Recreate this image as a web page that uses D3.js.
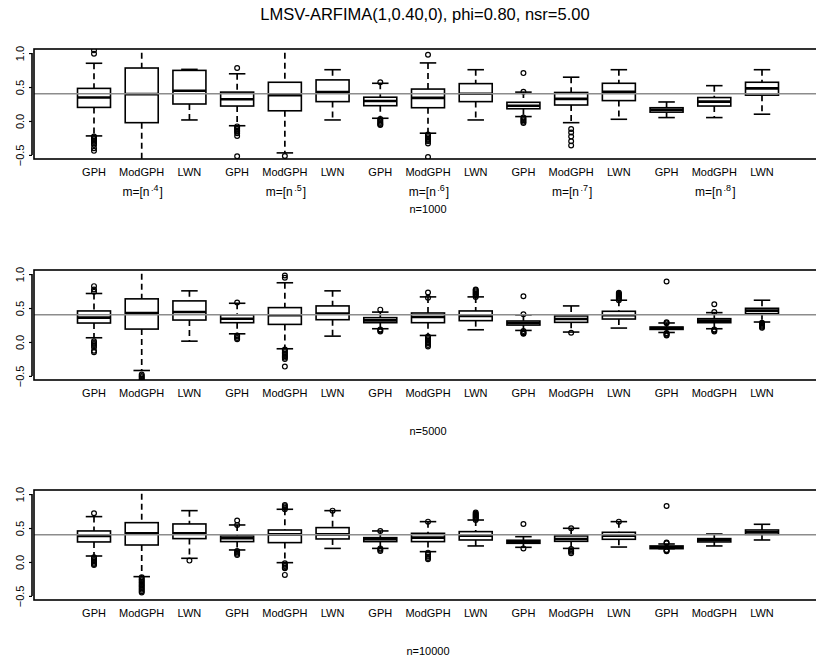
<!DOCTYPE html>
<html>
<head>
<meta charset="utf-8">
<script src="https://cdn.jsdelivr.net/npm/d3@7"></script>
<style>
  body { margin: 0; background: #fff; }
  text { font-family: "Liberation Sans", Arial, sans-serif; fill: #000; }
</style>
</head>
<body>
<script>
var width = 816;
var height = 661;

// categories (15 boxes per panel)
var methods = ["GPH", "ModGPH", "LWN"];
var bandExp = [".4", ".5", ".6", ".7", ".8"];
var sampleSizes = ["n=1000", "n=5000", "n=10000"];
var yTicks = [-0.5, 0.0, 0.5, 1.0];
var trueD = 0.4;

// five-number stats per box: [lower whisker, q1, median, q3, upper whisker]
var stats1000 = [
  [-0.22, 0.20, 0.345, 0.48, 0.85], [-0.8, -0.025, 0.395, 0.78, 1.3], [0.015, 0.25, 0.445, 0.745, 0.76],
  [-0.07, 0.22, 0.32, 0.425, 0.695], [-0.47, 0.15, 0.38, 0.57, 1.3], [0.015, 0.285, 0.425, 0.605, 0.755],
  [0.04, 0.225, 0.295, 0.35, 0.555], [-0.18, 0.195, 0.34, 0.47, 0.855], [0.015, 0.285, 0.40, 0.55, 0.755],
  [0.065, 0.18, 0.225, 0.275, 0.425], [-0.025, 0.235, 0.325, 0.42, 0.645], [0.025, 0.30, 0.43, 0.555, 0.755],
  [0.05, 0.13, 0.165, 0.195, 0.28], [0.05, 0.22, 0.285, 0.345, 0.52], [0.10, 0.38, 0.48, 0.57, 0.755]
];
var out1000 = [
  [1.04, 0.99, -0.23, -0.25, -0.27, -0.29, -0.31, -0.33, -0.355, -0.40, -0.44],
  [],
  [],
  [0.78, -0.08, -0.10, -0.12, -0.14, -0.16, -0.18, -0.22, -0.52],
  [-0.515],
  [],
  [0.57, -0.05, 0.03, 0.01, -0.01, -0.03, -0.06],
  [0.975, -0.20, -0.22, -0.24, -0.26, -0.28, -0.30, -0.33, -0.53],
  [],
  [0.43, 0.705, 0.05, 0.03, 0.01, -0.01, -0.03],
  [-0.12, -0.17, -0.23, -0.30, -0.36],
  [],
  [],
  [],
  []
];

var stats5000 = [
  [0.062, 0.279, 0.358, 0.457, 0.714], [-0.42, 0.19, 0.427, 0.635, 1.3], [0.012, 0.323, 0.442, 0.605, 0.753],
  [0.12, 0.284, 0.343, 0.40, 0.57], [-0.10, 0.259, 0.393, 0.506, 0.872], [0.086, 0.328, 0.417, 0.531, 0.753],
  [0.195, 0.284, 0.318, 0.358, 0.44], [0.096, 0.284, 0.368, 0.427, 0.664], [0.18, 0.314, 0.383, 0.457, 0.664],
  [0.17, 0.249, 0.279, 0.309, 0.40], [0.146, 0.289, 0.338, 0.383, 0.531], [0.205, 0.338, 0.393, 0.452, 0.615],
  [0.14, 0.185, 0.205, 0.22, 0.28], [0.195, 0.284, 0.314, 0.343, 0.432], [0.294, 0.417, 0.462, 0.496, 0.615]
];
var out5000 = [
  [0.822, 0.773, 0.74, 0.01, -0.01, -0.03, -0.05, -0.077, -0.13, -0.15],
  [-0.48, -0.50, -0.52, -0.54, -0.56],
  [],
  [0.58, 0.096, 0.08, 0.06, 0.04],
  [0.98, 0.945, -0.11, -0.13, -0.15, -0.17, -0.19, -0.21, -0.23, -0.25, -0.363],
  [],
  [0.476, 0.185, 0.17, 0.156],
  [0.728, 0.65, 0.08, 0.06, 0.04, 0.02, 0.0, -0.02, -0.045, -0.067],
  [0.773, 0.76, 0.745, 0.73, 0.715, 0.70, 0.685, 0.664],
  [0.407, 0.674, 0.16, 0.145, 0.13, 0.12],
  [0.136],
  [0.724, 0.71, 0.695, 0.68, 0.665, 0.65, 0.635, 0.615],
  [0.29, 0.275, 0.891, 0.131, 0.12, 0.108, 0.096],
  [0.442, 0.556, 0.185, 0.17, 0.156],
  [0.284, 0.27, 0.255, 0.24, 0.225, 0.21]
];

var stats10000 = [
  [0.088, 0.295, 0.383, 0.457, 0.668], [-0.216, 0.25, 0.422, 0.579, 1.3], [0.054, 0.344, 0.422, 0.56, 0.756],
  [0.177, 0.30, 0.349, 0.383, 0.545], [-0.01, 0.285, 0.407, 0.471, 0.776], [0.20, 0.339, 0.407, 0.506, 0.756],
  [0.20, 0.30, 0.334, 0.358, 0.457], [0.152, 0.30, 0.358, 0.422, 0.594], [0.236, 0.324, 0.388, 0.447, 0.618],
  [0.216, 0.275, 0.297, 0.32, 0.373], [0.20, 0.304, 0.339, 0.383, 0.496], [0.22, 0.334, 0.388, 0.437, 0.594],
  [0.196, 0.196, 0.216, 0.236, 0.265], [0.236, 0.295, 0.324, 0.344, 0.412], [0.324, 0.407, 0.437, 0.471, 0.555]
];
var out10000 = [
  [0.717, 0.07, 0.05, 0.03, 0.01, -0.01, -0.03, -0.044],
  [-0.226, -0.25, -0.27, -0.29, -0.31, -0.33, -0.35, -0.37, -0.39, -0.41, -0.43, -0.45],
  [0.02],
  [0.609, 0.545, 0.162, 0.14, 0.12, 0.103],
  [0.84, 0.82, 0.80, 0.776, -0.02, -0.04, -0.06, -0.08, -0.093, -0.19],
  [0.756],
  [0.457, 0.2, 0.18, 0.162],
  [0.594, 0.137, 0.11, 0.08, 0.06, 0.04],
  [0.727, 0.71, 0.695, 0.68, 0.665, 0.65, 0.635, 0.618],
  [0.56, 0.2],
  [0.496, 0.19, 0.17, 0.15, 0.128],
  [0.594],
  [0.285, 0.275, 0.825, 0.177, 0.167, 0.157],
  [],
  []
];

var panelStats = [stats1000, stats5000, stats10000];
var panelOut = [out1000, out5000, out10000];
var panelTop = [49, 270, 490];
var panelH = 110;

var svg = d3.select("body")
    .append("svg")
    .attr("width", width)
    .attr("height", height);

// title
svg.append("text")
    .attr("x", 425)
    .attr("y", 20)
    .attr("text-anchor", "middle")
    .style("font-size", "16.5px")
    .text("LMSV-ARFIMA(1,0.40,0), phi=0.80, nsr=5.00");

// x positions for the 15 boxes
var xScale = d3.scaleLinear()
    .domain([1, 15])
    .range([94, 762]);
var boxW = 33;
var frameLeft = 34;

var labels = [];
bandExp.forEach(function (e) {
    methods.forEach(function (m) { labels.push(m); });
});

panelTop.forEach(function (top, p) {
    var yScale = d3.scaleLinear()
        .domain([-0.56, 1.06])
        .range([top + panelH, top]);

    var g = svg.append("g");

    // clip for marks inside the plot region
    g.append("clipPath")
        .attr("id", "clip" + p)
        .append("rect")
        .attr("x", frameLeft)
        .attr("y", top)
        .attr("width", 900)
        .attr("height", panelH);

    var plot = g.append("g").attr("clip-path", "url(#clip" + p + ")");
    var stats = panelStats[p];
    var outs = panelOut[p];

    var box = plot.selectAll(".box")
        .data(stats)
        .enter()
        .append("g")
        .attr("class", "box");

    // whiskers (dashed)
    box.append("line")
        .attr("x1", function (d, i) { return xScale(i + 1); })
        .attr("x2", function (d, i) { return xScale(i + 1); })
        .attr("y1", function (d) { return yScale(d[4]); })
        .attr("y2", function (d) { return yScale(d[3]); })
        .attr("stroke", "#000")
        .attr("stroke-width", 1.7)
        .attr("stroke-dasharray", "6,4");
    box.append("line")
        .attr("x1", function (d, i) { return xScale(i + 1); })
        .attr("x2", function (d, i) { return xScale(i + 1); })
        .attr("y1", function (d) { return yScale(d[1]); })
        .attr("y2", function (d) { return yScale(d[0]); })
        .attr("stroke", "#000")
        .attr("stroke-width", 1.7)
        .attr("stroke-dasharray", "6,4");

    // staples
    [0, 4].forEach(function (k) {
        box.append("line")
            .attr("x1", function (d, i) { return xScale(i + 1) - boxW / 4; })
            .attr("x2", function (d, i) { return xScale(i + 1) + boxW / 4; })
            .attr("y1", function (d) { return yScale(d[k]); })
            .attr("y2", function (d) { return yScale(d[k]); })
            .attr("stroke", "#000")
            .attr("stroke-width", 1.6);
    });

    // boxes
    box.append("rect")
        .attr("x", function (d, i) { return xScale(i + 1) - boxW / 2; })
        .attr("y", function (d) { return yScale(d[3]); })
        .attr("width", boxW)
        .attr("height", function (d) { return yScale(d[1]) - yScale(d[3]); })
        .attr("fill", "#fff")
        .attr("stroke", "#000")
        .attr("stroke-width", 1.6);

    // medians
    box.append("line")
        .attr("x1", function (d, i) { return xScale(i + 1) - boxW / 2; })
        .attr("x2", function (d, i) { return xScale(i + 1) + boxW / 2; })
        .attr("y1", function (d) { return yScale(d[2]); })
        .attr("y2", function (d) { return yScale(d[2]); })
        .attr("stroke", "#000")
        .attr("stroke-width", 2.6);

    // outliers
    var pts = [];
    outs.forEach(function (arr, i) {
        arr.forEach(function (v) { pts.push({ i: i, v: v }); });
    });
    plot.selectAll(".out")
        .data(pts)
        .enter()
        .append("circle")
        .attr("class", "out")
        .attr("cx", function (d) { return xScale(d.i + 1); })
        .attr("cy", function (d) { return yScale(d.v); })
        .attr("r", 2.4)
        .attr("fill", "none")
        .attr("stroke", "#000")
        .attr("stroke-width", 1.2);

    // reference line at the true d
    plot.append("line")
        .attr("x1", frameLeft)
        .attr("x2", width)
        .attr("y1", yScale(trueD))
        .attr("y2", yScale(trueD))
        .attr("stroke", "#8c8c8c")
        .attr("stroke-width", 1.6);

    // frame (right side runs past the page)
    g.append("rect")
        .attr("x", frameLeft)
        .attr("y", top)
        .attr("width", 830 - frameLeft)
        .attr("height", panelH)
        .attr("fill", "none")
        .attr("stroke", "#000")
        .attr("stroke-width", 1.6);

    // y axis
    var yAxis = d3.axisLeft(yScale)
        .tickValues(yTicks)
        .tickSize(3)
        .tickFormat(d3.format(".1f"));
    var ax = g.append("g")
        .attr("transform", "translate(32,0)")
        .call(yAxis);
    ax.select(".domain")
        .attr("d", "M0," + yScale(1.0) + "V" + yScale(-0.5))
        .attr("stroke-width", 1.6);
    ax.selectAll(".tick line").attr("stroke-width", 1.2);
    ax.selectAll(".tick text")
        .attr("x", 0)
        .attr("dy", 0)
        .attr("transform", "translate(-8,0) rotate(-90)")
        .attr("text-anchor", "middle")
        .style("font-family", "'Liberation Sans', Arial, sans-serif")
        .style("font-size", "11px");

    // category labels
    g.selectAll(".cat")
        .data(labels)
        .enter()
        .append("text")
        .attr("class", "cat")
        .attr("x", function (d, i) { return xScale(i + 1); })
        .attr("y", top + panelH + 16.5)
        .attr("text-anchor", "middle")
        .style("font-size", "11px")
        .text(function (d) { return d; });

    // bandwidth labels only on the first panel
    if (p === 0) {
        var bl = g.selectAll(".band")
            .data(bandExp)
            .enter()
            .append("text")
            .attr("class", "band")
            .attr("x", function (d, i) { return xScale(i * 3 + 2) + 1; })
            .attr("y", top + panelH + 37)
            .attr("text-anchor", "middle")
            .style("font-size", "12px");
        bl.append("tspan").text("m=[n");
        bl.append("tspan")
            .attr("dx", 1.5)
            .attr("dy", -5)
            .style("font-size", "9px")
            .text(function (d) { return d; });
        bl.append("tspan")
            .attr("dx", 1)
            .attr("dy", 5)
            .text("]");
    }

    g.append("text")
        .attr("x", xScale(8))
        .attr("y", top + panelH + (p === 0 ? 54 : 55))
        .attr("text-anchor", "middle")
        .style("font-size", "11px")
        .text(sampleSizes[p]);
});
</script>
</body>
</html>
